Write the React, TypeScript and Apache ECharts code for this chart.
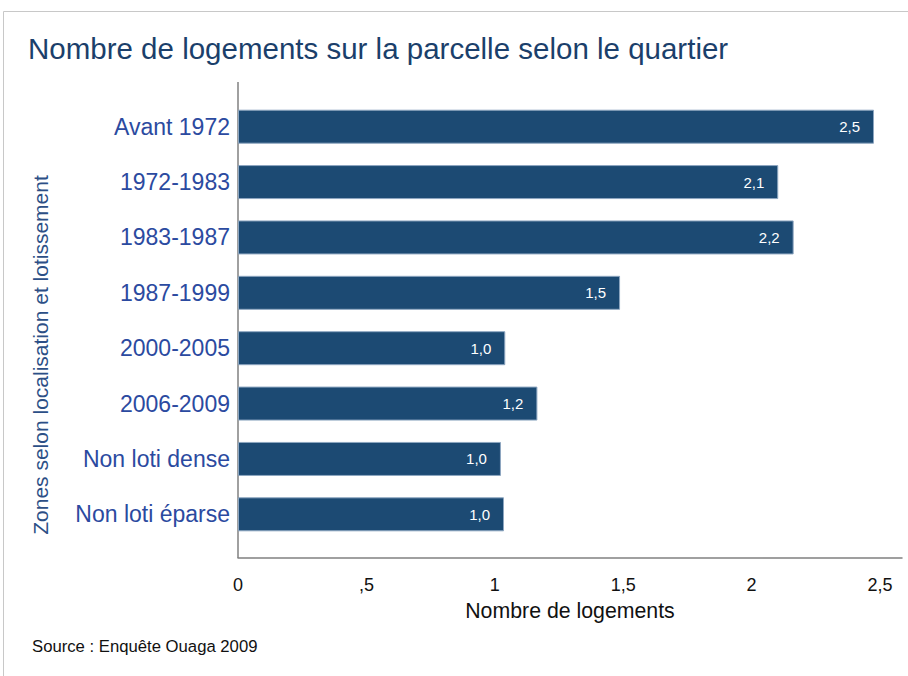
import React, { useEffect, useRef } from "react";
import * as echarts from "echarts";

const categories = [
  "Avant 1972",
  "1972-1983",
  "1983-1987",
  "1987-1999",
  "2000-2005",
  "2006-2009",
  "Non loti dense",
  "Non loti éparse",
];
const values = [2.477, 2.104, 2.164, 1.488, 1.041, 1.166, 1.024, 1.036];
const xTicks = [0, 0.5, 1, 1.5, 2, 2.5];
const title = "Nombre de logements sur la parcelle selon le quartier";
const xName = "Nombre de logements";
const yName = "Zones selon localisation et lotissement";
const source = "Source : Enquête Ouaga 2009";

const FONT = "'Liberation Sans', Arial, Helvetica, sans-serif";

function fmtTick(v: number): string {
  if (!xTicks.some((t) => Math.abs(t - v) < 1e-9)) return "";
  let s = String(v).replace(".", ",");
  if (v > 0 && v < 1) s = s.replace(/^0/, "");
  return s;
}

export default function App() {
  const ref = useRef<HTMLDivElement>(null);
  useEffect(() => {
    if (!ref.current) return;
    const chart = echarts.init(ref.current, undefined, { renderer: "svg" });
    chart.setOption({
      animation: false,
      backgroundColor: "#ffffff",
      textStyle: { fontFamily: FONT },
      title: {
        text: title,
        left: 23,
        top: 28,
        textStyle: { fontFamily: FONT, fontSize: 29.5, fontWeight: "normal", color: "#1b3f6b" },
      },
      grid: { left: 238, top: 99, width: 664, height: 443 },
      xAxis: {
        type: "value",
        min: 0,
        max: 2.586,
        interval: 0.5,
        offset: 16,
        axisLine: { show: true, lineStyle: { color: "#808080", width: 1.5 } },
        axisTick: { show: false },
        splitLine: { show: false },
        axisLabel: {
          margin: 18,
          fontSize: 18,
          color: "#111111",
          fontFamily: FONT,
          showMaxLabel: false,
          formatter: (v: number) => fmtTick(v),
        },
        name: xName,
        nameLocation: "middle",
        nameGap: 42,
        nameTextStyle: { fontSize: 21.3, color: "#111111", fontFamily: FONT },
      },
      yAxis: {
        type: "category",
        data: categories,
        inverse: true,
        axisLine: { show: false },
        axisTick: { show: false },
        axisLabel: { margin: 8, fontSize: 23, color: "#2b4aa0", fontFamily: FONT },
      },
      series: [
        {
          type: "bar",
          data: values,
          barWidth: 34,
          itemStyle: { color: "#1c4a73", borderColor: "#8da6c0", borderWidth: 1 },
          label: {
            show: true,
            position: "insideRight",
            distance: 14,
            color: "#ffffff",
            fontSize: 15,
            fontFamily: FONT,
            formatter: (p: any) => Number(p.value).toFixed(1).replace(".", ","),
          },
        },
      ],
      graphic: [
        {
          type: "polyline",
          shape: { points: [[3.5, 676], [3.5, 11.5], [908, 11.5]] },
          style: { stroke: "#c8c8c8", lineWidth: 1, fill: null },
          silent: true,
        },
        {
          type: "line",
          shape: { x1: 238, y1: 82, x2: 238, y2: 558 },
          style: { stroke: "#808080", lineWidth: 1.5 },
          silent: true,
        },
        {
          type: "text",
          x: 40,
          y: 355,
          rotation: Math.PI / 2,
          style: {
            text: yName,
            fontFamily: FONT,
            fontSize: 21,
            fill: "#2c4f86",
            align: "center",
            verticalAlign: "middle",
          },
          silent: true,
        },
        {
          type: "text",
          x: 32,
          y: 646,
          style: {
            text: source,
            fontFamily: FONT,
            fontSize: 16.7,
            fill: "#111111",
            align: "left",
            verticalAlign: "middle",
          },
          silent: true,
        },
      ],
    });
    return () => chart.dispose();
  }, []);
  return (
    <div
      ref={ref}
      style={{ position: "absolute", left: 0, top: 0, width: 908, height: 676 }}
    />
  );
}
